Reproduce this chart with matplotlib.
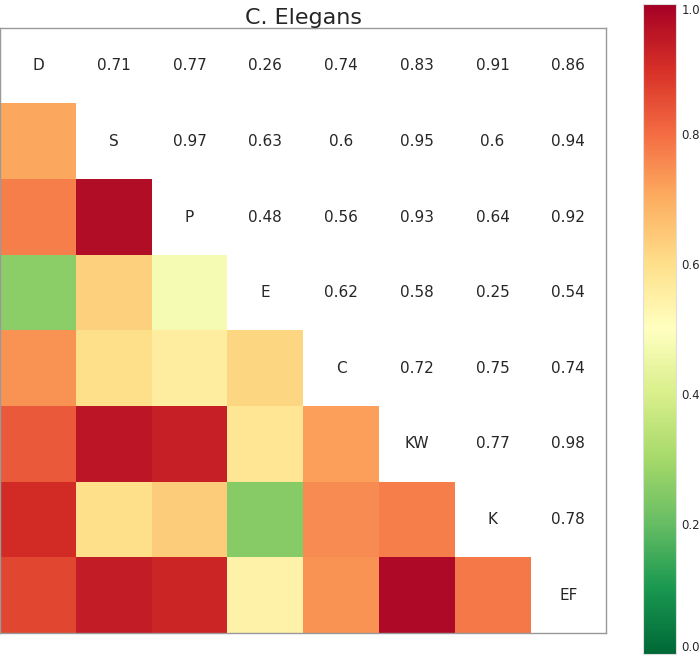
import matplotlib.pyplot as plt
import numpy as np

labels = ['D', 'S', 'P', 'E', 'C', 'KW', 'K', 'EF']
# upper triangle, row by row
upper = [
    [0.71, 0.77, 0.26, 0.74, 0.83, 0.91, 0.86],
    [0.97, 0.63, 0.60, 0.95, 0.60, 0.94],
    [0.48, 0.56, 0.93, 0.64, 0.92],
    [0.62, 0.58, 0.25, 0.54],
    [0.72, 0.75, 0.74],
    [0.77, 0.98],
    [0.78],
]

n = len(labels)
corr = np.eye(n)
for i, row in enumerate(upper):
    for k, v in enumerate(row):
        j = i + 1 + k
        corr[i, j] = v
        corr[j, i] = v

masked = np.ma.masked_where(np.triu(np.ones((n, n), bool)), corr)

fig = plt.figure(figsize=(7, 6.59), dpi=100)
ax = fig.add_axes([0.0, 0.0395, 0.866, 0.918])
cax = fig.add_axes([0.9186, 0.0076, 0.047, 0.9863])

im = ax.imshow(masked, cmap='RdYlGn_r', vmin=0, vmax=1, aspect='auto',
               extent=(-0.5, n - 0.5, n - 0.5, -0.5))
ax.set_xlim(-0.5, n - 0.5)
ax.set_ylim(n - 0.5, -0.5)

txt = '#262626'
for i in range(n):
    for j in range(i, n):
        s = labels[i] if i == j else f'{corr[i, j]:g}'
        ax.text(j, i, s, ha='center', va='center', fontsize=11, color=txt)

ax.set_xticks([])
ax.set_yticks([])
for sp in ax.spines.values():
    sp.set_color('#999999')
    sp.set_linewidth(1)
ax.set_title('C. Elegans', fontsize=16, color=txt, pad=3)

cb = fig.colorbar(im, cax=cax)
cb.set_ticks([0.0, 0.2, 0.4, 0.6, 0.8, 1.0])
cb.ax.tick_params(length=0, labelsize=8.5, labelcolor=txt, pad=4)
cb.ax.get_yticklabels()[0].set_va('bottom')
cb.ax.get_yticklabels()[-1].set_va('top')
cb.outline.set_edgecolor('#dddddd')
cb.outline.set_linewidth(0.8)

fig.savefig('out.png', dpi=100)
